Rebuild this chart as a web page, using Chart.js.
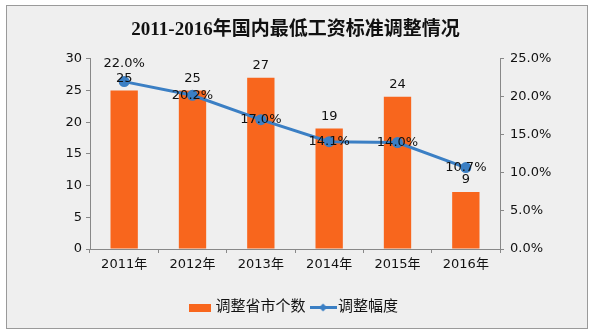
<!DOCTYPE html>
<html>
<head>
<meta charset="utf-8">
<script src="https://cdn.jsdelivr.net/npm/chart.js@4.4.1/dist/chart.umd.min.js"></script>
<style>
  html, body { margin: 0; padding: 0; background: #fff; }
  #wrap { position: relative; width: 591px; height: 334px; background: #fff; }
  #box { position: absolute; left: 6px; top: 5px; width: 580px; height: 322px; border: 1px solid #9a9a9a; background: #efefef; }
  #myChart { position: absolute; left: 0; top: 0; }
</style>
</head>
<body>
<div id="wrap">
  <div id="box"></div>
  <canvas id="myChart" width="591" height="334"></canvas>
</div>
<script>
const years = ["2011年", "2012年", "2013年", "2014年", "2015年", "2016年"];
const provinces = [25, 25, 27, 19, 24, 9];
const increase = [22.0, 20.2, 17.0, 14.1, 14.0, 10.7];
const leftTicks = [0, 5, 10, 15, 20, 25, 30];
const rightTicks = [0, 5, 10, 15, 20, 25];

const orange = "#f8661d";
const blue = "#3b7fc4";
const fontFam = "'DejaVu Sans', 'Noto Sans CJK SC', sans-serif";

Chart.defaults.font.family = fontFam;
Chart.defaults.color = "#111";

// legend icons
const barIcon = document.createElement("canvas");
barIcon.width = 22; barIcon.height = 8;
let g = barIcon.getContext("2d");
g.fillStyle = orange;
g.fillRect(0, 0, 22, 8);

const lineIcon = document.createElement("canvas");
lineIcon.width = 27; lineIcon.height = 9;
g = lineIcon.getContext("2d");
g.strokeStyle = blue; g.lineWidth = 3;
g.beginPath(); g.moveTo(0, 4.5); g.lineTo(27, 4.5); g.stroke();
g.fillStyle = blue;
g.beginPath(); g.moveTo(13.5, 0.5); g.lineTo(17.5, 4.5); g.lineTo(13.5, 8.5); g.lineTo(9.5, 4.5); g.closePath(); g.fill();

const valueLabels = {
    id: "valueLabels",
    afterDatasetsDraw(chart) {
        const c = chart.ctx;
        c.save();
        c.font = "13px " + fontFam;
        c.fillStyle = "#111";
        c.textAlign = "center";
        c.textBaseline = "middle";
        chart.getDatasetMeta(0).data.forEach((el, i) => {
            c.fillText(provinces[i], el.x, el.y - 12);
        });
        chart.getDatasetMeta(1).data.forEach((el, i) => {
            const dy = i === 0 ? -18 : 0;
            c.fillText(increase[i].toFixed(1) + "%", el.x, el.y + dy);
        });
        c.restore();
    }
};

const ctx = document.getElementById("myChart").getContext("2d");

const myChart = new Chart(ctx, {
    type: "bar",
    data: {
        labels: years,
        datasets: [
            {
                type: "bar",
                label: "调整省市个数",
                data: provinces,
                backgroundColor: orange,
                yAxisID: "y",
                categoryPercentage: 1,
                barPercentage: 0.4,
                order: 2
            },
            {
                type: "line",
                label: "调整幅度",
                data: increase,
                borderColor: blue,
                backgroundColor: blue,
                borderWidth: 3,
                pointRadius: 4,
                pointHoverRadius: 4,
                yAxisID: "y1",
                order: 1,
                tension: 0
            }
        ]
    },
    options: {
        responsive: false,
        animation: false,
        layout: { padding: { left: 0, right: 0, top: 0, bottom: 9 } },
        scales: {
            x: {
                grid: { display: true, drawOnChartArea: false, offset: true, color: "#888", tickLength: 4 },
                border: { color: "#888" },
                ticks: { font: { size: 13 }, color: "#111", padding: 4 },
                afterFit: (s) => { s.height = 41; }
            },
            y: {
                position: "left",
                min: 0, max: 30,
                afterBuildTicks: (s) => { s.ticks = leftTicks.map(v => ({ value: v })); },
                grid: { drawOnChartArea: false, color: "#888", tickLength: 4 },
                border: { color: "#888" },
                ticks: { font: { size: 13 }, color: "#111", padding: 4 },
                afterFit: (s) => { s.width = 90; }
            },
            y1: {
                position: "right",
                min: 0, max: 25,
                afterBuildTicks: (s) => { s.ticks = rightTicks.map(v => ({ value: v })); },
                grid: { drawOnChartArea: false, color: "#888", tickLength: 4 },
                border: { color: "#888" },
                ticks: {
                    font: { size: 13 }, color: "#111", padding: 6,
                    callback: (v) => v.toFixed(1) + "%"
                },
                afterFit: (s) => { s.width = 91; }
            }
        },
        plugins: {
            title: {
                display: true,
                text: "2011-2016年国内最低工资标准调整情况",
                font: { size: 19, weight: "bold", family: "'Liberation Serif', 'Noto Sans CJK SC', serif" },
                color: "#111",
                padding: { top: 19, bottom: 17 }
            },
            legend: {
                position: "bottom",
                labels: {
                    usePointStyle: true,
                    font: { size: 15 },
                    color: "#111",
                    padding: 10,
                    boxWidth: 27,
                    generateLabels: (chart) => chart.data.datasets.map((ds, i) => ({
                        text: ds.label,
                        datasetIndex: i,
                        pointStyle: i === 0 ? barIcon : lineIcon,
                        fontColor: "#111",
                        lineWidth: 0,
                        hidden: false
                    }))
                }
            },
            tooltip: { enabled: false }
        }
    },
    plugins: [valueLabels]
});
</script>
</body>
</html>
